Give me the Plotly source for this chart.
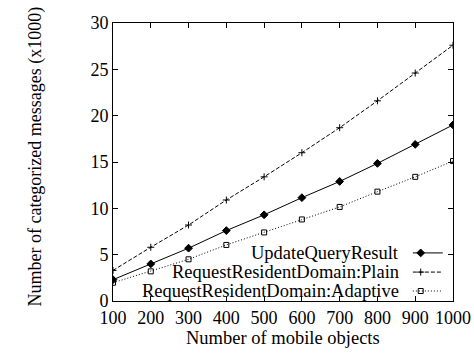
import plotly.graph_objects as go

objects = [100, 200, 300, 400, 500, 600, 700, 800, 900, 1000]
update_query = [2.3, 4.0, 5.7, 7.6, 9.3, 11.15, 12.9, 14.85, 16.9, 19.0]
plain = [3.3, 5.8, 8.2, 10.9, 13.4, 16.0, 18.7, 21.6, 24.6, 27.6]
adaptive = [1.97, 3.2, 4.5, 6.05, 7.4, 8.8, 10.15, 11.8, 13.4, 15.1]
names = ["UpdateQueryResult", "RequestResidentDomain:Plain", "RequestResidentDomain:Adaptive"]
x_ticks = [100, 200, 300, 400, 500, 600, 700, 800, 900, 1000]
y_ticks = [0, 5, 10, 15, 20, 25, 30]

FONT = "Liberation Serif"
styles = [
    dict(dash="solid", symbol="diamond", size=6),
    dict(dash="4px,2px", symbol="cross-thin", size=5),
    dict(dash="1px,2px", symbol="square-open", size=5),
]
series = [update_query, plain, adaptive]

fig = go.Figure()
for name, ys, st in zip(names, series, styles):
    fig.add_trace(go.Scatter(
        x=objects, y=ys, mode="lines+markers", name=name, showlegend=False,
        line=dict(color="black", width=1, dash=st["dash"]),
        marker=dict(symbol=st["symbol"], size=st["size"], color="black",
                    line=dict(color="black", width=1)),
    ))

# legend samples on overlay axes (0..1 of plot area)
leg_y = [0.173, 0.104, 0.036]
for name, st, ly in zip(names, styles, leg_y):
    fig.add_trace(go.Scatter(
        x=[0.882, 0.97], y=[ly, ly], mode="lines", xaxis="x2", yaxis="y2",
        showlegend=False, hoverinfo="skip",
        line=dict(color="black", width=1, dash=st["dash"]),
    ))
    fig.add_trace(go.Scatter(
        x=[0.905], y=[ly], mode="markers", xaxis="x2", yaxis="y2",
        showlegend=False, hoverinfo="skip",
        marker=dict(symbol=st["symbol"], size=st["size"], color="black",
                    line=dict(color="black", width=1)),
    ))
    fig.add_annotation(x=0.847, y=ly, xref="x2", yref="y2", text=name,
                       showarrow=False, xanchor="right", yanchor="middle",
                       font=dict(family=FONT, size=18.5, color="black"))

axis_common = dict(
    showline=True, linecolor="black", linewidth=1, mirror="ticks",
    ticks="inside", ticklen=5, tickcolor="black", showgrid=False, zeroline=False,
    automargin=False,
    tickfont=dict(family=FONT, size=18, color="black"),
)
fig.update_layout(
    width=474, height=353,
    margin=dict(l=113, r=21, t=23, b=52, autoexpand=False),
    plot_bgcolor="white", paper_bgcolor="white",
    xaxis=dict(range=[100, 1000], tickvals=x_ticks, **axis_common),
    yaxis=dict(range=[0, 30], tickvals=y_ticks, **axis_common),
    xaxis2=dict(range=[0, 1], overlaying="x", visible=False, fixedrange=True, automargin=False),
    yaxis2=dict(range=[0, 1], overlaying="y", visible=False, fixedrange=True, automargin=False),
)
fig.add_annotation(x=0.5, y=-0.133, xref="paper", yref="paper", text="Number of mobile objects",
                   showarrow=False, yanchor="middle",
                   font=dict(family=FONT, size=18.5, color="black"))
fig.add_annotation(x=-0.229, y=0.52, xref="paper", yref="paper",
                   text="Number of categorized messages (x1000)", textangle=-90,
                   showarrow=False, xanchor="center", yanchor="middle",
                   font=dict(family=FONT, size=18, color="black"))
fig.write_html("out.html", config={"displayModeBar": False},
               post_script="document.body.style.margin='0';document.body.style.overflow='hidden';")
